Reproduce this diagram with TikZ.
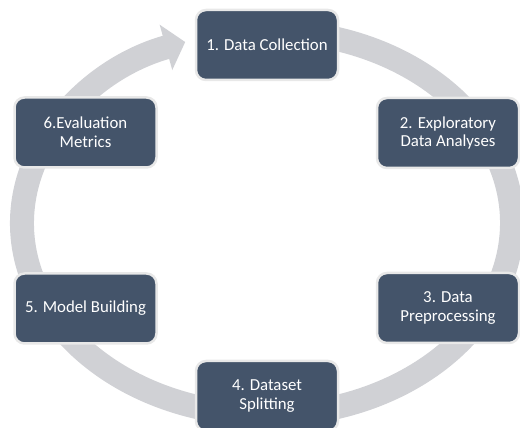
\documentclass[tikz,border=0pt]{standalone}
\usepackage{fontspec}
\setmainfont{Carlito}
\usetikzlibrary{arrows.meta}
\definecolor{boxfill}{HTML}{44546A}
\definecolor{ringgray}{RGB}{208,209,213}
\definecolor{boxedge}{RGB}{232,232,232}

\begin{document}
\begin{tikzpicture}[x=1pt,y=1pt,
  stage/.style={draw=boxedge, line width=2.5pt, fill=boxfill, rounded corners=10pt,
    minimum width=142pt, minimum height=70pt, text=white, align=center,
    font=\fontsize{16.8}{18.6}\selectfont, inner sep=0pt},
  cyclearrow/.style={draw=ringgray, line width=24pt,
    -{Triangle[width=46pt,length=20pt]}}]
\useasboundingbox (0,0) rectangle (520,428);

% the cycle ring with its arrow head
\coordinate (c) at (267,205);
\draw[cyclearrow] (c) ++(80:245pt and 192pt)
  arc[start angle=80, end angle=-250.5, x radius=245pt, y radius=192pt];

% the six stages
\node[stage] (s1) at (267,383) {1. Data Collection};
\node[stage] (s2) at (448,295) {2. Exploratory\\Data Analyses};
\node[stage] (s3) at (448,120) {3. Data\\Preprocessing};
\node[stage] (s4) at (267,32)  {4. Dataset\\Splitting};
\node[stage] (s5) at (85.5,119.5) {5. Model Building};
\node[stage] (s6) at (85.5,295.5) {6.Evaluation\\Metrics};
\end{tikzpicture}
\end{document}
